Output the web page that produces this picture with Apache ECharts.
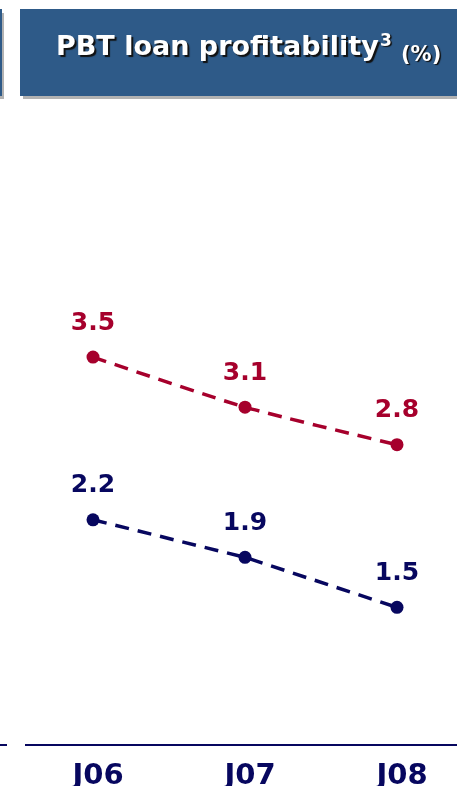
<!DOCTYPE html>
<html>
<head>
<meta charset="utf-8">
<script src="https://cdn.jsdelivr.net/npm/echarts@6/dist/echarts.min.js"></script>
<style>
  html, body { margin: 0; padding: 0; background: #ffffff; overflow: hidden; }
  #chart { width: 457px; height: 786px; }
</style>
</head>
<body>
<div id="chart"></div>
<script>
// ---- data ----
var categories = ['J06', 'J07', 'J08'];
var seriesTopName = 'Series A';
var seriesTopValues = [3.5, 3.1, 2.8];
var seriesBottomName = 'Series B';
var seriesBottomValues = [2.2, 1.9, 1.5];
var titleMain = 'PBT loan profitability';
var titleSup = '3';
var titleUnit = '(%)';

// ---- style ----
var RED = '#A6002C';
var NAVY = '#07075F';
var HEADER = '#2E5A88';
var SHADOW = '#B2B2B2';
var FONT = 'DejaVu Sans';

var chart = echarts.init(document.getElementById('chart'), null, { renderer: 'canvas' });

function lineSeries(name, data, color, smooth) {
  return {
    name: name,
    type: 'line',
    data: data,
    smooth: smooth,
    symbol: 'circle',
    symbolSize: 13,
    itemStyle: { color: color },
    lineStyle: { color: color, width: 3.5, type: [14, 9] },
    label: {
      show: true,
      position: 'top',
      distance: 15,
      color: color,
      fontFamily: FONT,
      fontWeight: 'bold',
      fontSize: 25,
      formatter: function (p) { return p.value.toFixed(1); }
    },
    animation: false
  };
}

var option = {
  animation: false,
  backgroundColor: '#ffffff',
  grid: { left: 17, right: -16, top: 232, bottom: 41, containLabel: false, outerBoundsMode: 'none' },
  xAxis: {
    type: 'category',
    data: categories,
    boundaryGap: true,
    axisLine: { show: true, lineStyle: { color: NAVY, width: 2 } },
    axisTick: { show: false },
    splitLine: { show: false },
    axisLabel: {
      color: NAVY,
      fontFamily: FONT,
      fontWeight: 'bold',
      fontSize: 29,
      margin: 17,
      padding: [0, 0, 0, 10]
    }
  },
  yAxis: {
    type: 'value',
    min: 0.4,
    max: 4.5,
    show: false,
    splitLine: { show: false }
  },
  series: [
    lineSeries(seriesTopName, seriesTopValues, RED, 0.2),
    lineSeries(seriesBottomName, seriesBottomValues, NAVY, false)
  ],
  graphic: [
    // left neighbouring panel edge
    { type: 'rect', shape: { x: -10, y: 13, width: 14, height: 86 }, style: { fill: SHADOW }, z: 1 },
    { type: 'rect', shape: { x: -10, y: 9, width: 12, height: 87 }, style: { fill: HEADER }, z: 2 },
    // header shadow + box
    { type: 'rect', shape: { x: 23, y: 13, width: 440, height: 86 }, style: { fill: SHADOW }, z: 1 },
    { type: 'rect', shape: { x: 20, y: 9, width: 440, height: 87 }, style: { fill: HEADER }, z: 2 },
    {
      type: 'text', z: 3, left: 56, top: 34,
      style: {
        text: titleMain, fill: '#ffffff', font: 'bold 27px "DejaVu Sans"',
        textShadowColor: '#111111', textShadowOffsetX: 2, textShadowOffsetY: 2, textShadowBlur: 1
      }
    },
    {
      type: 'text', z: 3, left: 380, top: 33,
      style: {
        text: titleSup, fill: '#ffffff', font: 'bold 17px "DejaVu Sans"',
        textShadowColor: '#111111', textShadowOffsetX: 1.5, textShadowOffsetY: 1.5, textShadowBlur: 1
      }
    },
    {
      type: 'text', z: 3, left: 401, top: 45,
      style: {
        text: titleUnit, fill: '#ffffff', font: 'bold 21px "DejaVu Sans"',
        textShadowColor: '#111111', textShadowOffsetX: 1.5, textShadowOffsetY: 1.5, textShadowBlur: 1
      }
    },
    // gap between panels on the baseline and neighbouring axis stub
    { type: 'rect', shape: { x: 8, y: 740, width: 17, height: 10 }, style: { fill: '#ffffff' }, z: 50 },
    { type: 'line', shape: { x1: 0, y1: 745, x2: 7, y2: 745 }, style: { stroke: NAVY, lineWidth: 2 }, z: 50 }
  ]
};

chart.setOption(option);
</script>
</body>
</html>
